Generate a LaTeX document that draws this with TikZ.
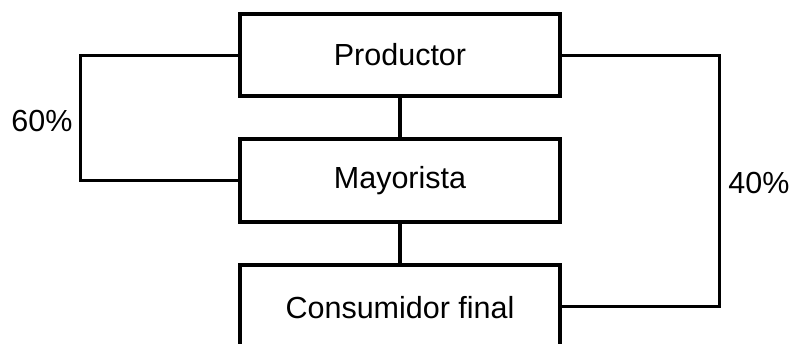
\documentclass[tikz,border=0pt]{standalone}
\usepackage{fontspec}
\setmainfont{Liberation Sans}
\begin{document}
\begin{tikzpicture}[x=1pt,y=-1pt,
  box/.style={draw=black,line width=4pt,minimum width=320pt,minimum height=82pt,inner sep=0pt,font=\fontsize{30.5}{36}\selectfont},
  lbl/.style={font=\fontsize{30.5}{36}\selectfont,inner sep=0pt},
  conn/.style={line width=3pt,line cap=butt},
  vconn/.style={line width=4.5pt}]
\useasboundingbox (0,0) rectangle (794,343);
\clip (0,0) rectangle (794,343);
\node[box] (prod) at (400,55) {Productor};
\node[box,minimum height=83pt] (may) at (400,180.5) {Mayorista};
\node[box,minimum height=86pt] (cons) at (400,308) {Consumidor final};
\draw[vconn] (prod.south) -- (may.north);
\draw[vconn] (may.south) -- (cons.north);
\coordinate (l1) at (80,55);
\coordinate (l2) at (80,180.5);
\draw[conn] (prod.west) -- (l1) -- (l2) -- (may.west);
\coordinate (r1) at (719,55);
\coordinate (r2) at (719,306);
\draw[conn] (prod.east) -- (r1) -- (r2) -- (cons.east |- r2);
\node[lbl] (p60) at (42,121) {60\%};
\node[lbl] (p40) at (759,183) {40\%};
\end{tikzpicture}
\end{document}
